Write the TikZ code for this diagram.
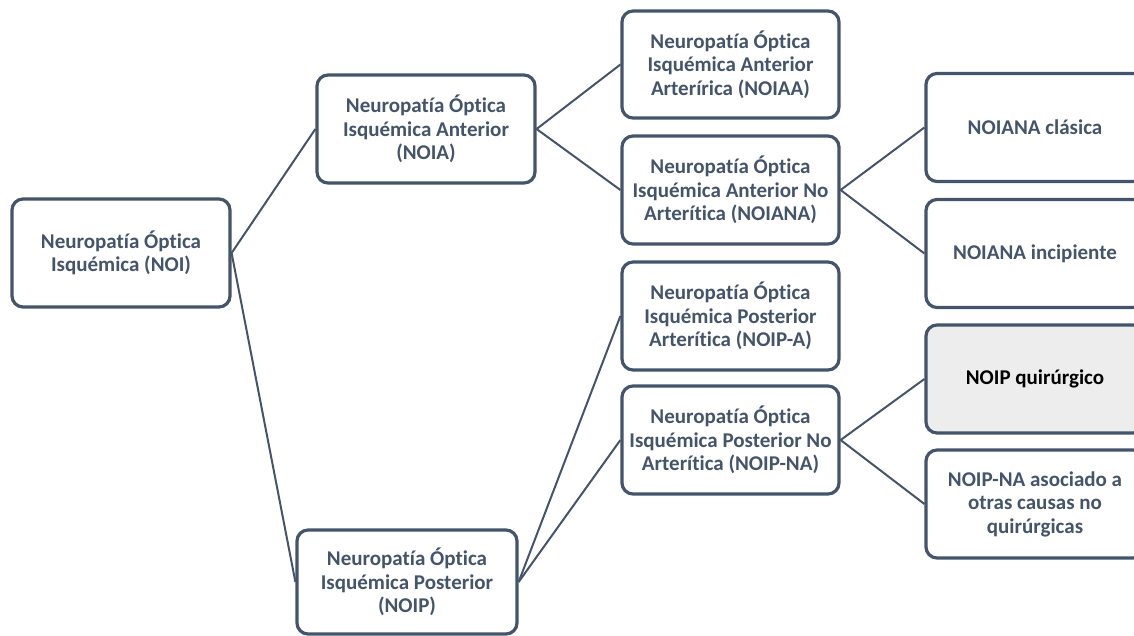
\documentclass[tikz,border=0pt]{standalone}
\usepackage{fontspec}
\setmainfont{Carlito}[Ligatures=NoCommon]
\definecolor{slate}{HTML}{44546A}
\definecolor{hl}{HTML}{EDEDED}
\tikzset{
  box/.style={draw=slate, line width=3.2pt, rounded corners=11pt, fill=white,
    text=slate, font=\bfseries\fontsize{21}{23.5}\selectfont, align=center,
    minimum width=218pt, minimum height=108pt, inner sep=2pt},
  hlbox/.style={box, fill=hl, text=black},
  link/.style={draw=slate, line width=2pt}
}
\begin{document}
\begin{tikzpicture}[x=1pt,y=1pt]
\useasboundingbox (0,0) rectangle (1134,-635);
\clip (0,0) rectangle (1134,-635);
% left column
\node[box] (noi) at (121,-253) {Neuropatía Óptica\\Isquémica (NOI)};
\node[box] (noia) at (426,-129) {Neuropatía Óptica\\Isquémica Anterior\\(NOIA)};
\node[box, minimum width=220pt, minimum height=104pt] (noip) at (407,-582) {Neuropatía Óptica\\Isquémica Posterior\\(NOIP)};
% middle column
\node[box, minimum width=217pt, minimum height=107pt] (noiaa) at (730.5,-64.5) {Neuropatía Óptica\\Isquémica Anterior\\Arterírica (NOIAA)};
\node[box, minimum width=217pt] (noiana) at (730.5,-190) {Neuropatía Óptica\\Isquémica Anterior No\\Arterítica (NOIANA)};
\node[box, minimum width=217pt] (noipa) at (730.5,-316) {Neuropatía Óptica\\Isquémica Posterior\\Arterítica (NOIP-A)};
\node[box, minimum width=217pt] (noipna) at (730.5,-440) {Neuropatía Óptica\\Isquémica Posterior No\\Arterítica (NOIP-NA)};
% right column
\node[box] (clas) at (1035,-127.5) {NOIANA clásica};
\node[box] (incip) at (1035,-253.5) {NOIANA incipiente};
\node[hlbox] (quir) at (1035,-379) {NOIP quirúrgico};
\node[box] (asoc) at (1035,-504) {NOIP-NA asociado a\\otras causas no\\quirúrgicas};
% connectors
\draw[link] (noi.east) -- (noia.west);
\draw[link] (noi.east) -- (noip.west);
\draw[link] (noia.east) -- (noiaa.west);
\draw[link] (noia.east) -- (noiana.west);
\draw[link] (noip.east) -- (noipa.west);
\draw[link] (noip.east) -- (noipna.west);
\draw[link] (noiana.east) -- (clas.west);
\draw[link] (noiana.east) -- (incip.west);
\draw[link] (noipna.east) -- (quir.west);
\draw[link] (noipna.east) -- (asoc.west);
\end{tikzpicture}
\end{document}
